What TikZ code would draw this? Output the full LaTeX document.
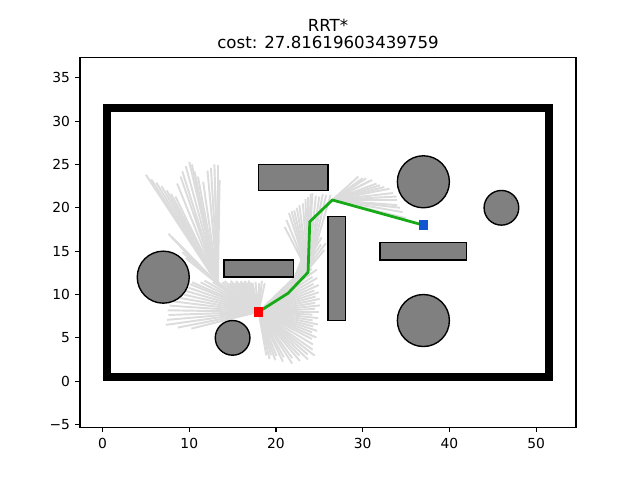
\documentclass[tikz,border=0pt]{standalone}
\usepackage{fontspec}
\setmainfont{DejaVu Sans}
\definecolor{treegray}{RGB}{220,220,220}
\definecolor{obgray}{RGB}{128,128,128}
\definecolor{pathgreen}{RGB}{22,170,22}
\definecolor{goalblue}{RGB}{18,86,210}
\tikzset{
  obst/.style={fill=obgray, draw=black, line width=1pt},
  wall/.style={fill=black},
  tree/.style={draw=treegray, line width=1.4pt},
  pathline/.style={draw=pathgreen, line width=2pt, line join=round},
  spine/.style={line width=0.8pt},
  ticklab/.style={font=\fontsize{10}{12}\selectfont, inner sep=0pt},
  titlelab/.style={font=\fontsize{12}{14}\selectfont, inner sep=0pt, anchor=base},
  marker/.style={inner sep=0pt, minimum size=6.8pt, draw=none}
}
\begin{document}
\begin{tikzpicture}[x=0.22024cm, y=0.22024cm]
\useasboundingbox (-11.826,-11.409) rectangle (61.981,43.963);
% path coordinates
\coordinate (S) at (18,8);
\coordinate (P1) at (21.4,10.15);
\coordinate (P2) at (23.7,12.56);
\coordinate (P3) at (23.9,18.4);
\coordinate (P4) at (26.5,20.9);
\coordinate (G) at (37,18);
\coordinate (H) at (13.3,11.2);
% tree fan from start
\foreach \a/\l in {-80/5.1,-77/5.6,-74/5.2,-71/5.9,-68/5.5,-64/6.4,-61/6.0,-57/7.1,-54/6.6,-50/7.4,-47/6.9,-44/7.9,-41/7.5,-38/8.2,-35/7.6,
  -31/7.3,-27/6.9,-24/7.3,-21/6.6,-18/7.1,-15/6.5,-12/7.0,-9/6.3,-6/6.9,-3/6.2,0/7.0,3/6.5,6/7.1,9/6.6,12/7.2,15/6.8,18/7.3,21/6.9,24/7.6,27/7.1,30/7.8,33/7.4,36/8.3,39/7.9,42/8.8,44/8.4,
  78/3.4,84/3.6,90/3.3,96/3.5,102/3.4,
  105/3.5,108/3.8,111/3.6,114/3.9,117/3.8,120/4.1,123/4.0,126/4.4,129/4.3,132/4.8,135/4.7,138/5.3,141/5.4,144/6.0,147/6.3,150/7.2,153/7.5,
  156/8.4,158/8.5,161/8.5,164/8.7,167/8.8,170/9.2,173/9.8,176/10.3,179/10.5,182/10.4,185/10.6,188/10.8,191/9.5,194/8.0}
  \draw[tree] (S) -- ++(\a:\l);
% fan from first path node
\foreach \a/\l in {50/6.5,53/7.2,56/6.8,59/7.5,62/7.0,65/7.6,68/6.9}
  \draw[tree] (P1) -- ++(\a:\l);
% upper-left fan
\draw[tree] (S) -- (H);
\foreach \p in {(5.0,23.8),(5.6,23.3),(6.2,22.9),(6.8,22.5),(7.4,22.0),(7.9,21.6),(8.4,21.3),(8.6,22.8),(9.0,23.6),(9.2,24.2),(9.6,24.8),(10.0,25.3),(10.3,25.0),(10.6,24.2),(11.0,23.6),(11.6,23.0),(12.1,24.3),(12.5,24.6),(12.9,25.0),(13.3,24.9),(13.5,23.2),(13.0,22.0),(10.5,19.5),(10.0,18.0),(7.6,17.0),(8.0,16.6),(8.5,16.1),(8.9,15.6),(9.2,14.9),(9.6,14.2)}
  \draw[tree] (H) -- \p;
% fan from second path node
\foreach \p in {(21.0,17.8),(21.2,18.6),(21.5,19.4),(21.8,19.6),(22.1,19.7),(22.4,20.0),(22.7,20.3),(23.1,20.5),(23.4,21.0),(23.7,21.3),(24.0,21.6),(24.2,21.7),(24.6,21.4),(25.0,21.3),(25.4,21.6),(25.8,21.5),(26.3,21.5)}
  \draw[tree] (P2) -- \p;
% fan from fourth path node
\foreach \p in {(29.5,23.6),(30.0,23.4),(30.4,23.4),(30.8,23.1),(31.1,23.2),(31.6,22.8),(32.0,22.6),(32.5,22.4),(33.1,22.2),(33.5,21.7),(33.9,21.3),(33.9,20.9),(34.0,20.3),(34.3,20.0),(34.6,19.5),(35.0,18.8)}
  \draw[tree] (P4) -- \p;
% walls
\fill[wall] (0,0) rectangle (52,1);
\fill[wall] (0,31) rectangle (52,32);
\fill[wall] (0,0) rectangle (1,32);
\fill[wall] (51,0) rectangle (52,32);
% obstacles
\draw[obst] (7,12) circle (3);
\draw[obst] (15,5) circle (2);
\draw[obst] (37,7) circle (3);
\draw[obst] (37,23) circle (3);
\draw[obst] (46,20) circle (2);
\draw[obst] (18,22) rectangle (26,25);
\draw[obst] (14,12) rectangle (22,14);
\draw[obst] (26,7) rectangle (28,19);
\draw[obst] (32,14) rectangle (42,16);
% best path
\draw[pathline] (S) -- (P1) -- (P2) -- (P3) -- (P4) -- (G);
\node[marker, fill=red] (start) at (S) {};
\node[marker, fill=goalblue] (goal) at (G) {};
% axes
\draw[spine] (-2.6,-5.32) rectangle (54.6,37.32);
\foreach \x in {0,10,20,30,40,50} {
  \draw[spine] (\x,-5.32) -- ++(0,-0.56);
  \node[ticklab, anchor=north] at (\x,-6.55) {\x};
}
\foreach \y/\t in {-5/−5,0/0,5/5,10/10,15/15,20/20,25/25,30/30,35/35} {
  \draw[spine] (-2.6,\y) -- ++(-0.56,0);
  \node[ticklab, anchor=east] at (-3.72,\y) {\t};
}
\node[titlelab] (t1) at (26,40.31) {RRT*};
\node[titlelab] (t2) at (26,38.39) {cost: 27.81619603439759};
\end{tikzpicture}
\end{document}
